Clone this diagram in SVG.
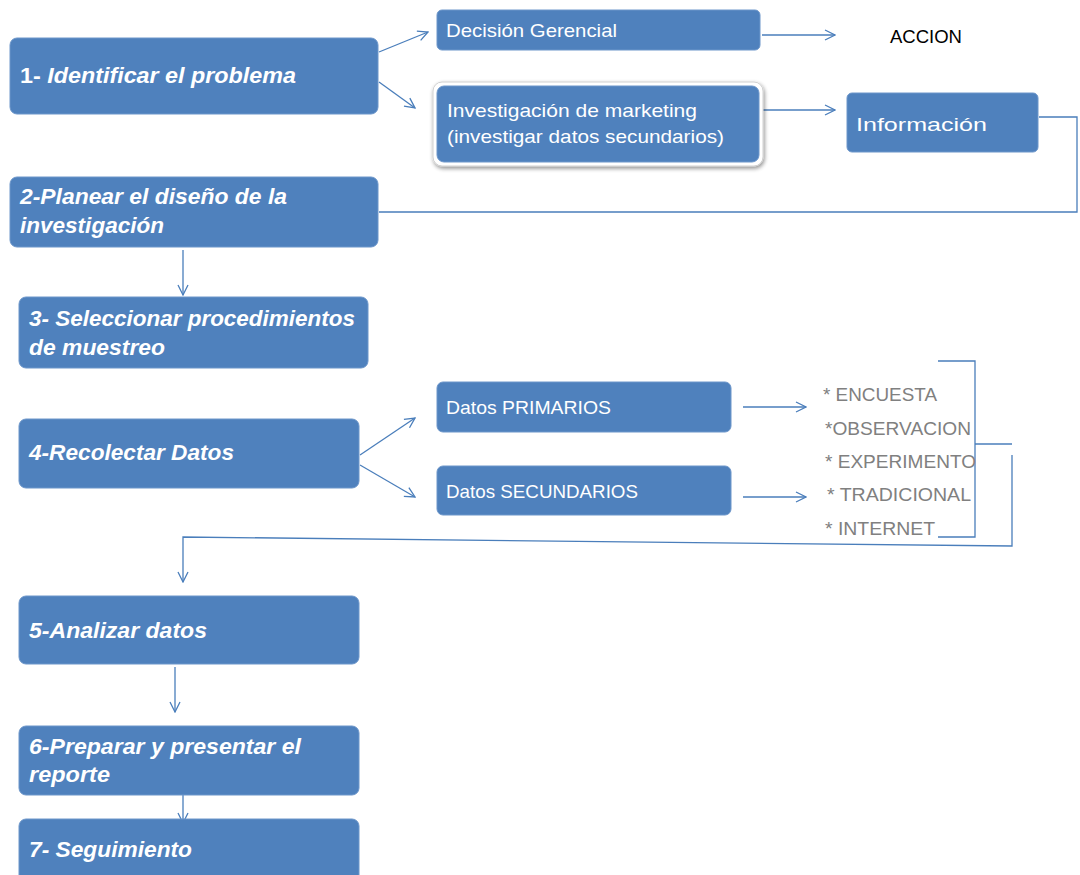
<svg xmlns="http://www.w3.org/2000/svg" width="1080" height="875" viewBox="0 0 1080 875">
<defs>
<style>
.box{fill:#4F81BD;stroke:#6C96CA;stroke-width:1}
.t{fill:#fff;font-family:"Liberation Sans",Arial,sans-serif;font-weight:bold;font-style:italic;font-size:22px}
.s{fill:#fff;font-family:"Liberation Sans",Arial,sans-serif;font-size:19px}
.g{fill:#808080;font-family:"Liberation Sans",Arial,sans-serif;font-size:19px}
.c{fill:none;stroke:#4A7EBB;stroke-width:1.3}
</style>
<marker id="ah" viewBox="0 0 12 12" refX="11" refY="6" markerWidth="12" markerHeight="12" markerUnits="userSpaceOnUse" orient="auto">
<path d="M1,1 L11,6 L1,11" fill="none" stroke="#4A7EBB" stroke-width="1.3"/>
</marker>
<filter id="sh" x="-10%" y="-20%" width="120%" height="150%">
<feGaussianBlur in="SourceAlpha" stdDeviation="2"/>
<feOffset dx="1" dy="2" result="b"/>
<feComponentTransfer><feFuncA type="linear" slope="0.45"/></feComponentTransfer>
<feMerge><feMergeNode/><feMergeNode in="SourceGraphic"/></feMerge>
</filter>
</defs>
<rect width="1080" height="875" fill="#fff"/>

<g id="connectors">
<path class="c" d="M379,52 L428,32" marker-end="url(#ah)"/>
<path class="c" d="M379,82 L415,108" marker-end="url(#ah)"/>
<path class="c" d="M762,35 L835,35" marker-end="url(#ah)"/>
<path class="c" d="M762,110 L835,110" marker-end="url(#ah)"/>
<path class="c" d="M1039,117 L1077,117 L1077,212 L379,212"/>
<path class="c" d="M183,250 L183,295" marker-end="url(#ah)"/>
<path class="c" d="M360,455 L415,418" marker-end="url(#ah)"/>
<path class="c" d="M360,465 L415,497" marker-end="url(#ah)"/>
<path class="c" d="M743,407 L806,407" marker-end="url(#ah)"/>
<path class="c" d="M743,497 L806,497" marker-end="url(#ah)"/>
<path class="c" d="M938,361 L975,361 L975,537 L938,537"/>
<path class="c" d="M975,444 L1012,444"/>
<path class="c" d="M1012,455 L1012,546 L183,537 L183,582" marker-end="url(#ah)"/>
<path class="c" d="M175,667 L175,712" marker-end="url(#ah)"/>
<path class="c" d="M183,790 L183,823" marker-end="url(#ah)"/>
</g>

<g id="n1">
<rect class="box" x="10" y="38" width="368" height="76" rx="7"/>
<text class="t" x="20" y="83" textLength="276" lengthAdjust="spacingAndGlyphs"><tspan font-style="normal">1- </tspan>Identificar el problema</text>
</g>
<g id="n2">
<rect class="box" x="10" y="177" width="368" height="70" rx="7"/>
<text class="t" x="20" y="204" textLength="267" lengthAdjust="spacingAndGlyphs">2-Planear el diseño de la</text>
<text class="t" x="20" y="233" textLength="144" lengthAdjust="spacingAndGlyphs">investigación</text>
</g>
<g id="n3">
<rect class="box" x="19" y="297" width="349" height="71" rx="7"/>
<text class="t" x="29" y="326" textLength="326" lengthAdjust="spacingAndGlyphs">3- Seleccionar procedimientos</text>
<text class="t" x="29" y="355" textLength="136" lengthAdjust="spacingAndGlyphs">de muestreo</text>
</g>
<g id="n4">
<rect class="box" x="19" y="419" width="340" height="69" rx="7"/>
<text class="t" x="29" y="460" textLength="205" lengthAdjust="spacingAndGlyphs">4-Recolectar Datos</text>
</g>
<g id="n5">
<rect class="box" x="19" y="596" width="340" height="68" rx="7"/>
<text class="t" x="29" y="638" textLength="178" lengthAdjust="spacingAndGlyphs">5-Analizar datos</text>
</g>
<g id="n6">
<rect class="box" x="19" y="726" width="340" height="69" rx="7"/>
<text class="t" x="29" y="754" textLength="272" lengthAdjust="spacingAndGlyphs">6-Preparar y presentar el</text>
<text class="t" x="29" y="782" textLength="81" lengthAdjust="spacingAndGlyphs">reporte</text>
</g>
<g id="n7">
<rect class="box" x="19" y="819" width="340" height="70" rx="7"/>
<text class="t" x="29" y="857" textLength="163" lengthAdjust="spacingAndGlyphs">7- Seguimiento</text>
</g>

<g id="decision">
<rect class="box" x="437" y="10" width="323" height="40" rx="5"/>
<text class="s" x="446" y="37" textLength="171" lengthAdjust="spacingAndGlyphs">Decisión Gerencial</text>
</g>
<g id="accion">
<text x="890" y="43" font-family="'Liberation Sans',Arial,sans-serif" font-size="18" fill="#000" textLength="72" lengthAdjust="spacingAndGlyphs">ACCION</text>
</g>
<g id="investigacion">
<rect x="433" y="82" width="330" height="84" rx="9" fill="#fff" stroke="#d0d0d0" stroke-width="1" filter="url(#sh)"/>
<rect class="box" x="437" y="86" width="322" height="76" rx="7"/>
<text class="s" x="447" y="117" textLength="250" lengthAdjust="spacingAndGlyphs">Investigación de marketing</text>
<text class="s" x="447" y="143" textLength="277" lengthAdjust="spacingAndGlyphs">(investigar datos secundarios)</text>
</g>
<g id="informacion">
<rect class="box" x="847" y="93" width="191" height="59" rx="5"/>
<text class="s" x="856" y="131" font-size="25" textLength="131" lengthAdjust="spacingAndGlyphs">Información</text>
</g>
<g id="primarios">
<rect class="box" x="437" y="382" width="294" height="50" rx="6"/>
<text class="s" x="446" y="414" textLength="165" lengthAdjust="spacingAndGlyphs">Datos PRIMARIOS</text>
</g>
<g id="secundarios">
<rect class="box" x="437" y="466" width="294" height="49" rx="6"/>
<text class="s" x="446" y="498" textLength="192" lengthAdjust="spacingAndGlyphs">Datos SECUNDARIOS</text>
</g>
<g id="lista">
<text class="g" x="823" y="401" textLength="114" lengthAdjust="spacingAndGlyphs">* ENCUESTA</text>
<text class="g" x="825" y="435" textLength="146" lengthAdjust="spacingAndGlyphs">*OBSERVACION</text>
<text class="g" x="825" y="468" textLength="151" lengthAdjust="spacingAndGlyphs">* EXPERIMENTO</text>
<text class="g" x="827" y="501" textLength="144" lengthAdjust="spacingAndGlyphs">* TRADICIONAL</text>
<text class="g" x="825" y="535" textLength="110" lengthAdjust="spacingAndGlyphs">* INTERNET</text>
</g>
</svg>
